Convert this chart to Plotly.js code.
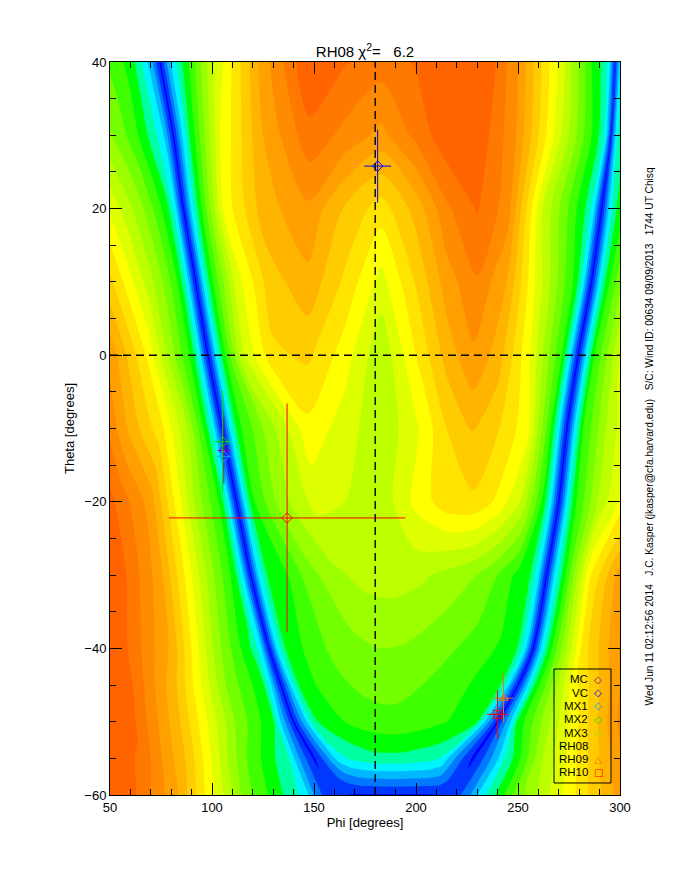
<!DOCTYPE html>
<html><head><meta charset="utf-8">
<script src="https://cdn.plot.ly/plotly-3.0.1.min.js"></script>
<style>html,body{margin:0;padding:0;background:#fff}#chart{width:680px;height:880px}</style>
</head><body><div id="chart"></div>
<script>
const thetaRows = [-60, -55, -50, -45, -40, -30, -20, -10, 0, 10, 20, 30, 40];

const phi_m60 = [50, 63, 82, 117, 146, 150, 154, 158, 162, 166, 170, 174, 178, 182, 186, 190, 194, 198, 202, 205, 208, 211, 214, 216, 219, 222, 226, 231, 250, 300];
const chi_m60 = [19.5, 18.5, 15.8, 7.9, 4, 2.5, 1.5, 1.0, 0.7, 0.5, 0.4, 0.4, 0.4, 0.4, 0.4, 0.4, 0.4, 0.4, 0.4, 0.4, 0.45, 0.5, 0.6, 0.8, 1.0, 1.5, 2.3, 3.8, 8, 16];

const phi_m55 = [50, 66, 88, 115, 138, 142, 146, 150, 154, 158, 162, 167, 172, 177, 182, 187, 192, 197, 202, 207, 210, 213, 218, 223, 228, 233, 238, 243, 262, 300];
const chi_m55 = [19.5, 18.2, 14.3, 7.8, 4.5, 2.8, 1.5, 0.3, 1.5, 2.8, 4, 4.6, 4.9, 5.1, 5.2, 5.2, 5.2, 5.1, 5, 4.9, 4.6, 4.3, 2.8, 1.5, 0.3, 1.5, 2.8, 4.3, 9.5, 16.3];

const phi_m50 = [50, 61, 84, 112, 130, 134, 137, 140, 143, 146, 150, 157, 165, 173, 181, 189, 197, 205, 213, 220, 226, 230, 234, 237, 240, 243, 246, 250, 270, 300];
const chi_m50 = [19.5, 18.8, 14.6, 8.3, 5.6, 3.3, 2, 0.2, 2, 3.3, 5.3, 6, 6.5, 6.9, 7.1, 7.2, 7.1, 6.9, 6.6, 6.3, 6.0, 5.6, 3.3, 2, 0.2, 2, 3.3, 5.8, 10.5, 16.8];

const phi_m45 = [50, 60, 82, 108, 124.8, 128.8, 131.3, 133.8, 136.3, 138.8, 142.8, 152, 163, 173, 183, 193, 203, 213, 222, 230, 236, 241, 245, 247.5, 250, 252.5, 255, 259, 277, 300];
const chi_m45 = [19.5, 18.7, 14.7, 8.2, 5.8, 3.8, 2, 0.2, 2, 3.8, 5.6, 6.6, 7.3, 7.7, 7.9, 7.8, 7.5, 7.1, 6.7, 6.3, 5.9, 5.6, 3.8, 2, 0.2, 2, 3.8, 6, 12, 16.5];

const phi_m40 = [50, 58, 80, 103, 120, 124, 126, 128, 130, 132, 136, 147, 160, 172, 183, 195, 207, 220, 232, 242, 247, 249.5, 253.5, 255.5, 257.5, 259.5, 261.5, 265.5, 282, 300];
const chi_m40 = [19.4, 18.6, 15.3, 8.8, 5.3, 3.8, 2, 0.2, 2, 3.8, 5.5, 6.8, 7.8, 8.3, 8.5, 8.4, 8.0, 7.5, 6.9, 6.3, 5.8, 5.5, 3.8, 2, 0.2, 2, 3.8, 6, 13, 16.6];

const phi_m30 = [50, 58, 74, 99, 111, 115, 117, 119, 121, 123, 127, 136, 147, 160, 172, 185, 200, 215, 228, 240, 250, 256, 260, 262, 264, 266, 268, 272, 285, 300];
const chi_m30 = [19.3, 18.5, 16, 9, 6, 3.8, 2, 0.2, 2, 3.8, 5.5, 6.3, 8.0, 9.2, 9.8, 10, 9.8, 9.2, 8.6, 7.5, 6.2, 5.5, 3.8, 2, 0.2, 2, 3.8, 5.8, 12.3, 16];

const phi_m20 = [50, 56, 70, 93, 104, 108, 110, 112, 114, 116, 120, 130, 140, 150, 165, 183, 200, 215, 228, 240, 252, 262, 266, 268, 270, 272, 274, 278, 290, 305];
const chi_m20 = [18.8, 18, 16, 9, 6.3, 4, 2, 0.2, 2, 4, 6.3, 8.3, 9.8, 10.8, 10.5, 9.8, 11.8, 13.1, 13.3, 12.3, 10.3, 6.3, 4, 2, 0.2, 2, 4, 6.3, 9.8, 12.6];

const phi_m10 = [50, 60, 75, 88, 97, 101, 103, 105, 107, 109, 113, 125, 137, 147, 165, 183, 200, 215, 228, 240, 255, 266, 270, 272, 274, 276, 278, 282, 295, 305];
const chi_m10 = [17.2, 15.2, 12.8, 9.5, 6, 3.8, 2, 0.2, 2, 3.8, 6.2, 8.5, 10.5, 12.2, 11.0, 9.7, 11.3, 13.5, 14.6, 13.6, 11.8, 6.5, 4, 2, 0.2, 2, 4, 6.5, 10, 11.5];

const phi_p00 = [50, 58, 68, 80, 90, 94, 96, 98, 100, 102, 106, 115, 130, 147, 165, 183, 200, 215, 228, 240, 255, 271.5, 275.5, 277.5, 279.5, 281.5, 283.5, 287.5, 300, 310];
const chi_p00 = [16.2, 14.5, 12.4, 9, 6.2, 4, 2, 0.2, 1.8, 3.8, 6.2, 10.3, 13.3, 13.7, 12.0, 9.7, 12.5, 14.9, 16.3, 15.1, 11.8, 6.5, 4, 2, 0.2, 2, 4, 6.5, 10.5, 11.5];

const phi_p10 = [50, 60, 70, 78, 84, 88, 90, 92, 94, 96, 100, 112, 128, 147, 165, 183, 200, 215, 230, 245, 260, 278, 282, 284, 286, 288, 290, 294, 302, 310];
const chi_p10 = [13.8, 11.8, 9.8, 8, 6.2, 4, 2, 0.2, 2, 4, 6.3, 11, 14, 15.2, 13.3, 11.1, 13.6, 16, 17.4, 15.4, 11, 6.2, 4, 2, 0.2, 2, 4, 6.2, 8.8, 10];

const phi_p20 = [50, 58, 66, 72, 78, 82, 84, 86, 88, 90, 94, 106, 125, 147, 165, 183, 200, 215, 230, 245, 262, 283, 287, 289, 291, 293, 295, 299, 305, 312];
const chi_p20 = [11.3, 10, 8.6, 7.3, 5.8, 4, 2, 0.2, 2, 3.8, 6, 11.8, 15, 16.3, 14.4, 13.0, 14.9, 17.3, 18.6, 17.0, 10.5, 5.5, 4, 2, 0.2, 2, 4, 5.8, 7.3, 8.8];

const phi_p30 = [50, 56, 62, 68, 73, 77, 79, 81, 83, 85, 89, 104, 125, 148, 165, 183, 200, 215, 230, 248, 270, 287.6, 291.6, 293.6, 295.6, 297.6, 299.6, 303.6, 308, 314];
const chi_p30 = [8.6, 7.8, 6.9, 5.6, 4.5, 3.3, 1.8, 0.2, 1.8, 3.3, 5.5, 11.5, 15.5, 18.2, 17.2, 16.2, 17.8, 19.2, 19.3, 16.8, 10.8, 6.1, 4.9, 3.4, 0.4, 3.4, 4.9, 6.1, 7.2, 8.2];

const phi_p40 = [50, 54.5, 59, 63, 66.5, 70.5, 72.5, 74.5, 76.5, 78.5, 82.5, 100, 125, 147, 165, 183, 200, 215, 235, 250, 272, 287, 292, 295, 297.5, 300, 303, 307, 310, 314];
const chi_p40 = [7.3, 6.8, 6.2, 5.3, 4.2, 2.8, 1.5, 0.2, 1.6, 3, 4.5, 10.3, 16, 19.4, 18.6, 18.0, 18.6, 19.6, 19.3, 16.5, 10.8, 6.2, 5.2, 3.8, 0.5, 3.8, 5.2, 6, 6.5, 7];

const phiRows = [phi_m60, phi_m55, phi_m50, phi_m45, phi_m40, phi_m30, phi_m20, phi_m10, phi_p00, phi_p10, phi_p20, phi_p30, phi_p40];
const chiRows = [chi_m60, chi_m55, chi_m50, chi_m45, chi_m40, chi_m30, chi_m20, chi_m10, chi_p00, chi_p10, chi_p20, chi_p30, chi_p40];

// colour of each chi-square level (level 0 = minimum valley)
const levelColors = ['#0000FF','#0038FF','#0078FF','#00B8FF','#00F4FF','#00FFA0','#00FF00','#40FF00','#74FF00','#9CFF00',
                     '#BEFF00','#DEFF00','#FFFF00','#FFE400','#FFCC00','#FFB400','#FFA000','#FF8C00','#FF7800','#FF6400'];

// ---- estimates with error bars
const estNames  = ['MC', 'VC', 'MX1', 'MX2', 'MX3', 'RH08', 'RH09', 'RH10'];
const estPhi    = [105.8, 181.2, 105.9, 105.2, null, 136.8, 242.9, 240.0];
const estTheta  = [-13.0, 25.8, -13.8, -11.8, null, -22.2, -46.8, -49.0];
const estPhiErr = [3.0, 6.6, 3.5, 3.9, 0, 58.0, 4.7, 5.1];
const estThErr  = [4.5, 5.0, 0.0, 7.0, 0, 15.6, 3.3, 3.3];
const estColors = ['#9000A0', '#0000FF', '#00A8FF', '#00E000', '#A0E000', '#FF0000', '#FF7000', '#FF0000'];
const estSymbols= ['diamond-open','diamond-open','diamond-open','diamond-open','diamond-open','diamond-open','triangle-up-open','square-open'];
const legendGlyphs = ['\u25C7','\u25C7','\u25C7','\u25C7','\u25C7','\u25C7','\u25B3','\u25A1'];
const legendGlyphColors = ['#9000A0', '#0000FF', '#00A8FF', '#00E000', '#A0E000', '#FFC000', '#FF7000', '#FF0000'];

const refPhi = 180, refTheta = 0;
const chartTitle = 'RH08 \u03C7<sup>2</sup>=\u00A0\u00A0\u00A06.2';
const sideText = 'Wed Jun 11 02:12:56 2014\u00A0\u00A0 J.C. Kasper (jkasper@cfa.harvard.edu)\u00A0\u00A0 S/C: Wind ID: 00634 09/09/2013\u00A0\u00A0 1744 UT Chisq';

// ---- build carpet table
const A = [], B = [], X = [], Y = [], Z = [];
thetaRows.forEach((th, i) => {
  phiRows[i].forEach((p, j) => { A.push(th); B.push(j); X.push(p); Y.push(th); Z.push(chiRows[i][j]); });
});
const nL = levelColors.length - 1;
const colorscale = levelColors.map((c, k) => [k / nL, c]);

const hiddenAxis = {showgrid: false, showline: false, showticklabels: 'none', startline: false, endline: false,
  minorgridcount: 0, smoothing: 0, gridcolor: 'rgba(0,0,0,0)', linecolor: 'rgba(0,0,0,0)'};

const traces = [
  {type: 'carpet', carpet: 'grid', a: A, b: B, x: X, y: Y, aaxis: hiddenAxis, baxis: hiddenAxis, hoverinfo: 'skip'},
  {type: 'contourcarpet', carpet: 'grid', a: A, b: B, z: Z, autocontour: false,
   contours: {start: 0.5, end: nL - 0.5, size: 1, coloring: 'fill', showlines: false},
   line: {width: 0, smoothing: 0.8}, colorscale: colorscale, showscale: false, hoverinfo: 'skip'}
];

estNames.forEach((n, i) => {
  if (estPhi[i] === null) return;
  traces.push({type: 'scatter', mode: 'markers', name: n, x: [estPhi[i]], y: [estTheta[i]],
    error_x: {type: 'data', array: [estPhiErr[i]], color: estColors[i], thickness: 1, width: 0, visible: estPhiErr[i] > 0},
    error_y: {type: 'data', array: [estThErr[i]], color: estColors[i], thickness: 1, width: 0, visible: estThErr[i] > 0},
    marker: {symbol: estSymbols[i], size: 8, color: estColors[i], line: {width: 1, color: estColors[i]}},
    hoverinfo: 'skip', cliponaxis: true});
});

const F = 'Liberation Sans, Arial, sans-serif';
const annotations = [];
estNames.forEach((n, i) => {
  const yp = (795 - (679.3 + 13.3 * i)) / 733;
  annotations.push({xref: 'paper', yref: 'paper', x: 0.9412, y: yp, xanchor: 'right', yanchor: 'middle', showarrow: false,
    text: n, font: {family: F, size: 11.5, color: '#000'}});
  annotations.push({xref: 'paper', yref: 'paper', x: 0.9569, y: yp, xanchor: 'center', yanchor: 'middle', showarrow: false,
    text: legendGlyphs[i], font: {family: 'DejaVu Sans', size: 10, color: legendGlyphColors[i]}});
});
annotations.push({xref: 'paper', yref: 'paper', x: 1.0588, y: 0.489, xanchor: 'center', yanchor: 'middle', showarrow: false,
  textangle: -90, text: sideText, font: {family: F, size: 10.2, color: '#000'}});

const axisCommon = {ticks: 'inside', ticklen: 12, tickwidth: 1, tickcolor: '#000', showline: true, linecolor: '#000', linewidth: 1,
  mirror: 'ticks', showgrid: false, zeroline: false, tickfont: {family: F, size: 13, color: '#000'}};

const layout = {
  width: 680, height: 880, margin: {l: 110, r: 60, t: 62, b: 85},
  paper_bgcolor: '#fff', plot_bgcolor: '#fff', showlegend: false,
  title: {text: chartTitle, font: {family: F, size: 15, color: '#000'}, x: 0.5, xref: 'paper', xanchor: 'center',
          y: 1 - 52 / 880, yref: 'container', yanchor: 'middle'},
  xaxis: Object.assign({}, axisCommon, {range: [50, 300], tick0: 50, dtick: 50,
    minor: {dtick: 10, ticks: 'inside', ticklen: 6, tickcolor: '#000', tickwidth: 1, showgrid: false},
    title: {text: 'Phi [degrees]', font: {family: F, size: 13, color: '#000'}, standoff: 4}}),
  yaxis: Object.assign({}, axisCommon, {range: [-60, 40], tick0: -60, dtick: 20,
    minor: {dtick: 5, ticks: 'inside', ticklen: 6, tickcolor: '#000', tickwidth: 1, showgrid: false},
    title: {text: 'Theta [degrees]', font: {family: F, size: 13, color: '#000'}, standoff: 6}}),
  shapes: [
    {type: 'line', xref: 'x', yref: 'paper', x0: refPhi, x1: refPhi, y0: 0, y1: 1, line: {color: '#000', width: 1.4, dash: '8px,5px'}},
    {type: 'line', xref: 'paper', yref: 'y', x0: 0, x1: 1, y0: refTheta, y1: refTheta, line: {color: '#000', width: 1.4, dash: '8px,5px'}},
    {type: 'rect', xref: 'paper', yref: 'paper', x0: 0.8706, x1: 0.9824, y0: 0.0164, y1: 0.1719, line: {color: '#000', width: 1}, fillcolor: 'rgba(0,0,0,0)'}
  ],
  annotations: annotations
};

Plotly.newPlot('chart', traces, layout, {staticPlot: true, displayModeBar: false});
</script></body></html>
